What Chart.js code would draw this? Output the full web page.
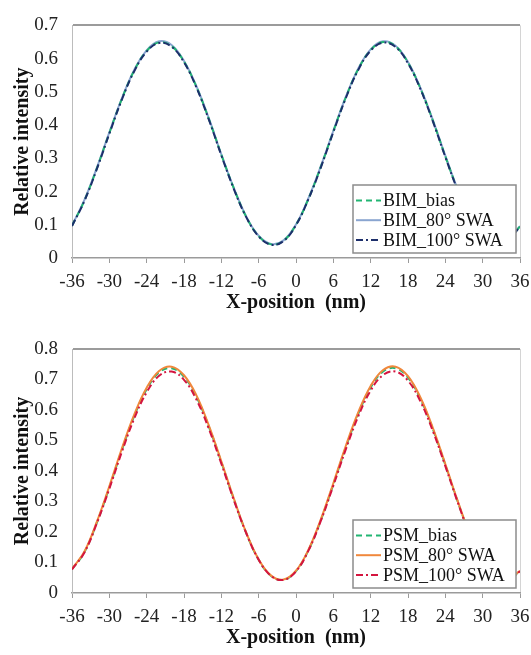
<!DOCTYPE html>
<html>
<head>
<meta charset="utf-8">
<script src="https://cdn.jsdelivr.net/npm/chart.js@4"></script>
<style>
  body { margin: 0; background: #fff; }
  .box { position: relative; width: 531px; }
</style>
</head>
<body>
<div class="box" style="height:320px"><canvas id="bimChart"></canvas></div>
<div class="box" style="height:335px"><canvas id="psmChart"></canvas></div>
<script>
const xPos = [-36, -34, -32, -30, -28, -26, -24, -22, -20, -18, -16, -14, -12, -10, -8, -6, -4, -2,
    0, 2, 4, 6, 8, 10, 12, 14, 16, 18, 20, 22, 24, 26, 28, 30, 32, 34, 36];

const bimBias = [0.097, 0.173, 0.270, 0.376, 0.478, 0.564, 0.623, 0.649, 0.638, 0.591, 0.515, 0.418, 0.311,
    0.210, 0.124, 0.066, 0.041, 0.052, 0.100, 0.178, 0.275, 0.381, 0.483, 0.568, 0.626, 0.650, 0.637,
    0.588, 0.510, 0.413, 0.306, 0.205, 0.121, 0.063, 0.040, 0.054, 0.095];
const bim80 = [0.098, 0.175, 0.272, 0.378, 0.480, 0.566, 0.625, 0.652, 0.641, 0.593, 0.517, 0.420, 0.312,
    0.211, 0.125, 0.067, 0.042, 0.053, 0.101, 0.180, 0.277, 0.383, 0.485, 0.570, 0.628, 0.652, 0.639,
    0.590, 0.512, 0.415, 0.308, 0.206, 0.122, 0.064, 0.041, 0.055, 0.096];
const bim100 = [0.096, 0.172, 0.268, 0.374, 0.476, 0.562, 0.621, 0.647, 0.636, 0.589, 0.513, 0.416, 0.309,
    0.208, 0.123, 0.065, 0.040, 0.051, 0.099, 0.177, 0.273, 0.379, 0.481, 0.566, 0.624, 0.648, 0.635,
    0.586, 0.508, 0.411, 0.304, 0.203, 0.120, 0.062, 0.039, 0.053, 0.094];

const psmBias = [0.078, 0.134, 0.231, 0.346, 0.468, 0.580, 0.668, 0.723, 0.737, 0.709, 0.643, 0.545, 0.429,
    0.308, 0.197, 0.109, 0.056, 0.043, 0.072, 0.140, 0.239, 0.356, 0.477, 0.587, 0.674, 0.726, 0.737,
    0.706, 0.636, 0.537, 0.420, 0.299, 0.189, 0.104, 0.053, 0.044, 0.072];
const psm80 = [0.079, 0.136, 0.234, 0.350, 0.473, 0.585, 0.673, 0.728, 0.742, 0.714, 0.648, 0.549, 0.432,
    0.310, 0.198, 0.110, 0.057, 0.044, 0.073, 0.142, 0.242, 0.360, 0.482, 0.592, 0.679, 0.731, 0.742,
    0.711, 0.641, 0.541, 0.423, 0.301, 0.190, 0.105, 0.054, 0.045, 0.073];
const psm100 = [0.077, 0.133, 0.229, 0.342, 0.462, 0.572, 0.658, 0.712, 0.726, 0.699, 0.634, 0.538, 0.424,
    0.305, 0.196, 0.109, 0.056, 0.043, 0.071, 0.139, 0.237, 0.352, 0.471, 0.579, 0.664, 0.715, 0.726,
    0.696, 0.628, 0.531, 0.416, 0.297, 0.188, 0.104, 0.053, 0.044, 0.071];

const serif = '"Liberation Serif", "Times New Roman", serif';

function points(ys) {
    return xPos.map((x, i) => ({x: x, y: ys[i]}));
}

// legend box drawn inside the plot, lower right, over the curves
const boxLegend = {
    id: 'boxLegend',
    afterDatasetsDraw(chart) {
        const ctx = chart.ctx;
        const area = chart.chartArea;
        const w = 163, h = 68;
        const x0 = area.right - w - 4;
        const y0 = area.bottom - h - 5;
        ctx.save();
        ctx.fillStyle = '#fff';
        ctx.fillRect(x0, y0, w, h);
        ctx.strokeStyle = '#8c8c8c';
        ctx.lineWidth = 1.5;
        ctx.strokeRect(x0, y0, w, h);
        chart.data.datasets.forEach((ds, i) => {
            const y = y0 + 15.5 + i * 19.7;
            ctx.setLineDash(ds.borderDash || []);
            ctx.strokeStyle = ds.borderColor;
            ctx.lineWidth = 2;
            ctx.beginPath();
            ctx.moveTo(x0 + 3, y);
            ctx.lineTo(x0 + 28, y);
            ctx.stroke();
            ctx.setLineDash([]);
            ctx.fillStyle = '#111';
            ctx.font = '18px ' + serif;
            ctx.textBaseline = 'middle';
            ctx.fillText(ds.label, x0 + 30, y + 1);
        });
        ctx.restore();
    }
};

function makeChart(id, series, yMax, topPad) {
    return new Chart(document.getElementById(id), {
        type: 'line',
        data: {
            datasets: series.map(s => ({
                label: s.label,
                data: points(s.values),
                borderColor: s.color,
                borderDash: s.dash,
                borderWidth: 2,
                pointRadius: 0,
                tension: 0.4,
                fill: false,
                order: s.order,
            }))
        },
        options: {
            animation: false,
            responsive: true,
            maintainAspectRatio: false,
            layout: {padding: {left: 11, right: 11, top: topPad, bottom: 5}},
            plugins: {legend: {display: false}, tooltip: {enabled: false}},
            scales: {
                x: {
                    type: 'linear',
                    min: -36,
                    max: 36,
                    afterFit: s => { s.height = 57; s.paddingLeft = 0; s.paddingRight = 0; },
                    ticks: {stepSize: 6, color: '#222', padding: 8, font: {family: serif, size: 19}},
                    grid: {
                        color: c => c.tick && c.tick.value === 36 ? '#d4d4d4' : 'rgba(0,0,0,0)',
                        tickColor: '#9b9b9b',
                        tickLength: 5,
                    },
                    border: {color: '#9b9b9b', width: 1.5},
                    title: {
                        display: true,
                        text: 'X-position  (nm)',
                        color: '#111',
                        padding: {top: 4, bottom: 0},
                        font: {family: serif, size: 20, weight: 'bold'}
                    }
                },
                y: {
                    min: 0,
                    max: yMax,
                    afterFit: s => { s.width = 61; },
                    ticks: {
                        stepSize: 0.1,
                        color: '#222',
                        padding: 14,
                        font: {family: serif, size: 19},
                        callback: v => String(+v.toFixed(1))
                    },
                    grid: {
                        drawTicks: false,
                        color: c => c.tick && Math.abs(c.tick.value - yMax) < 1e-6 ? '#9b9b9b' : 'rgba(0,0,0,0)',
                        lineWidth: 2,
                    },
                    border: {color: '#bcbcbc', width: 1},
                    title: {
                        display: true,
                        text: 'Relative intensity',
                        color: '#111',
                        padding: 0,
                        font: {family: serif, size: 20, weight: 'bold'}
                    }
                }
            }
        },
        plugins: [boxLegend]
    });
}

makeChart('bimChart', [
    {label: 'BIM_bias', values: bimBias, color: '#22b573', dash: [6, 4], order: 1},
    {label: 'BIM_80° SWA', values: bim80, color: '#8aa5d0', dash: [], order: 2},
    {label: 'BIM_100° SWA', values: bim100, color: '#1d2f6b', dash: [7, 3, 2, 3], order: 0},
], 0.7, 14);

makeChart('psmChart', [
    {label: 'PSM_bias', values: psmBias, color: '#22b573', dash: [6, 4], order: 2},
    {label: 'PSM_80° SWA', values: psm80, color: '#f0883c', dash: [], order: 1},
    {label: 'PSM_100° SWA', values: psm100, color: '#d4153f', dash: [7, 3, 2, 3], order: 0},
], 0.8, 29);
</script>
</body>
</html>
